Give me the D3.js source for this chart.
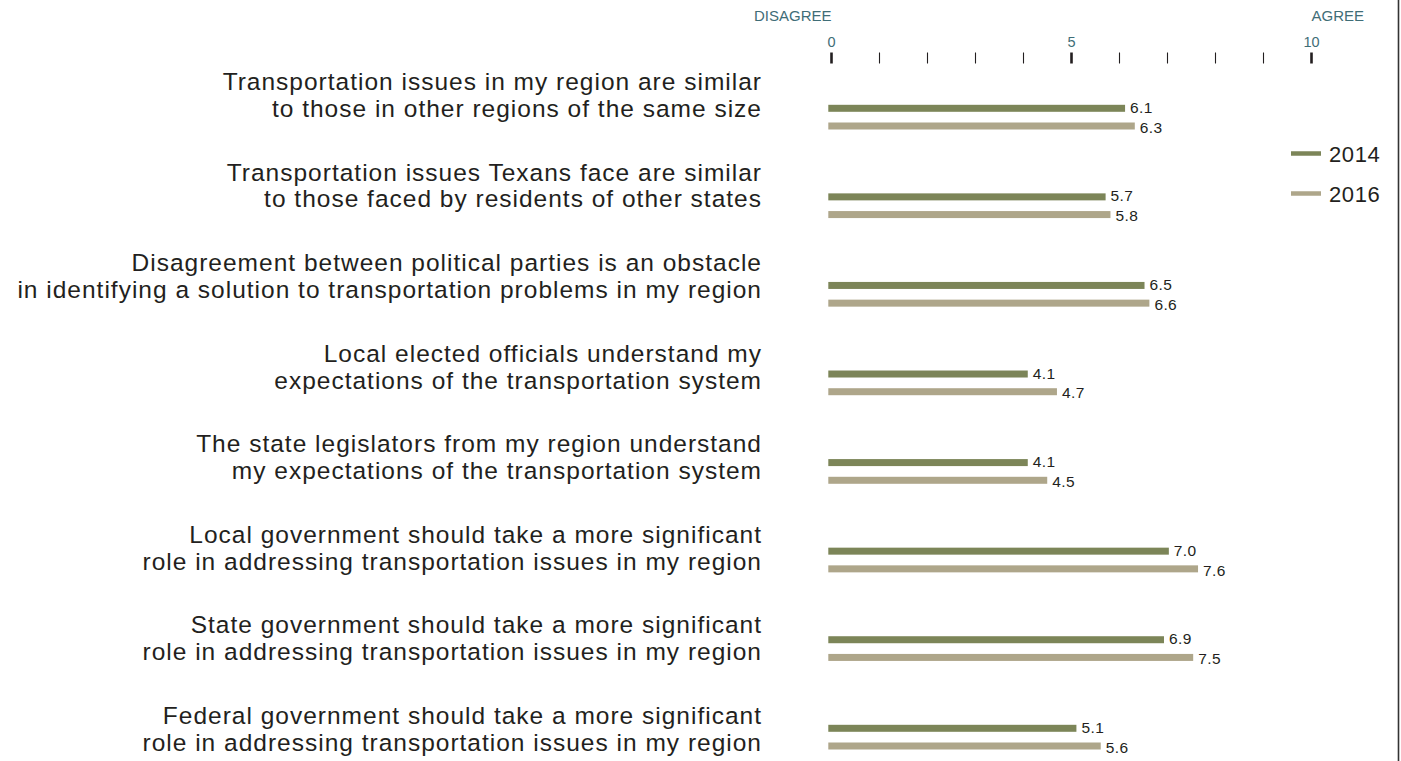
<!DOCTYPE html>
<html>
<head>
<meta charset="utf-8">
<script src="https://cdn.jsdelivr.net/npm/d3@7"></script>
<style>
  html, body { margin: 0; padding: 0; background: #fff; }
  svg { display: block; font-family: "Liberation Sans", Arial, Helvetica, sans-serif; }
</style>
</head>
<body>
<svg id="chart" width="1401" height="761"></svg>
<script>
// Survey statements (each split over two lines)
const statements = [
  ["Transportation issues in my region are similar", "to those in other regions of the same size"],
  ["Transportation issues Texans face are similar", "to those faced by residents of other states"],
  ["Disagreement between political parties is an obstacle", "in identifying a solution to transportation problems in my region"],
  ["Local elected officials understand my", "expectations of the transportation system"],
  ["The state legislators from my region understand", "my expectations of the transportation system"],
  ["Local government should take a more significant", "role in addressing transportation issues in my region"],
  ["State government should take a more significant", "role in addressing transportation issues in my region"],
  ["Federal government should take a more significant", "role in addressing transportation issues in my region"]
];
const years = ["2014", "2016"];
const values2014 = [6.1, 5.7, 6.5, 4.1, 4.1, 7.0, 6.9, 5.1];
const values2016 = [6.3, 5.8, 6.6, 4.7, 4.5, 7.6, 7.5, 5.6];
const tickValues = [0, 1, 2, 3, 4, 5, 6, 7, 8, 9, 10];
const tickLabels = [0, 5, 10];
const scaleEnds = ["DISAGREE", "AGREE"];

const colors = { "2014": "#7c8558", "2016": "#aea68a" };
const tealText = "#3f6d77";
const ink = "#231f20";

const svg = d3.select("#chart");
const ids = d3.range(statements.length);
const seriesValues = { "2014": values2014, "2016": values2016 };

// Scales
const xAxis = d3.scaleLinear().domain([0, 10]).range([831.5, 1311.5]);
const xBar = d3.scaleLinear().domain([0, 10]).range([828.3, 1314.8]);
const yBar = d3.scalePoint().domain(ids).range([108.3, 728.3]);
const yInner = d3.scalePoint().domain(years).range([0, 17.7]);
const yLabel = d3.scalePoint().domain(ids).range([90, 724]);

// Scale header
const header = svg.append("g").attr("fill", tealText).attr("font-size", 15);
header.append("text").attr("x", xAxis(0)).attr("y", 21).attr("text-anchor", "end").text(scaleEnds[0]);
header.append("text").attr("x", xAxis(10)).attr("y", 21).attr("text-anchor", "start").text(scaleEnds[1]);

// Tick labels
svg.append("g").selectAll("text").data(tickLabels).join("text")
  .attr("x", d => xAxis(d)).attr("y", 46.5)
  .attr("text-anchor", "middle").attr("font-size", 14.5).attr("fill", tealText)
  .text(d => d);

// Tick marks (major at 0, 5, 10)
svg.append("g").selectAll("line").data(tickValues).join("line")
  .attr("x1", d => xAxis(d)).attr("x2", d => xAxis(d))
  .attr("y1", 52.5).attr("y2", 63.5)
  .attr("stroke", ink)
  .attr("stroke-width", d => d % 5 === 0 ? 2.6 : 1.1);

// Statement labels
const labels = svg.append("g").attr("fill", ink).attr("font-size", 24.5)
  .attr("letter-spacing", 1.0).attr("text-anchor", "end");
statements.forEach((lines, i) => {
  lines.forEach((ln, j) => {
    labels.append("text").attr("x", 762).attr("y", yLabel(i) + j * 26.8).text(ln);
  });
});

// Bars with value labels
const barH = 7;
years.forEach(yr => {
  const g = svg.append("g");
  g.selectAll("rect").data(ids).join("rect")
    .attr("x", xBar(0))
    .attr("y", i => yBar(i) + yInner(yr) - barH / 2)
    .attr("width", i => xBar(seriesValues[yr][i]) - xBar(0))
    .attr("height", barH)
    .attr("fill", colors[yr]);
  g.selectAll("text").data(ids).join("text")
    .attr("x", i => xBar(seriesValues[yr][i]) + 5)
    .attr("y", i => yBar(i) + yInner(yr) + (yr === "2014" ? 4.5 : 6.7))
    .attr("font-size", 15.5).attr("letter-spacing", 0.4).attr("fill", ink)
    .text(i => seriesValues[yr][i].toFixed(1));
});

// Legend
const legend = svg.append("g");
years.forEach((yr, k) => {
  const cy = 153.5 + k * 40;
  legend.append("line").attr("x1", 1291).attr("x2", 1321).attr("y1", cy).attr("y2", cy)
    .attr("stroke", colors[yr]).attr("stroke-width", 4.5);
  legend.append("text").attr("x", 1329).attr("y", cy + 8).attr("font-size", 22)
    .attr("letter-spacing", 0.6).attr("fill", ink).text(yr);
});

// Right frame edge
svg.append("line").attr("x1", 1398.5).attr("x2", 1398.5).attr("y1", 0).attr("y2", 761)
  .attr("stroke", "#333").attr("stroke-width", 1.6);
</script>
</body>
</html>
